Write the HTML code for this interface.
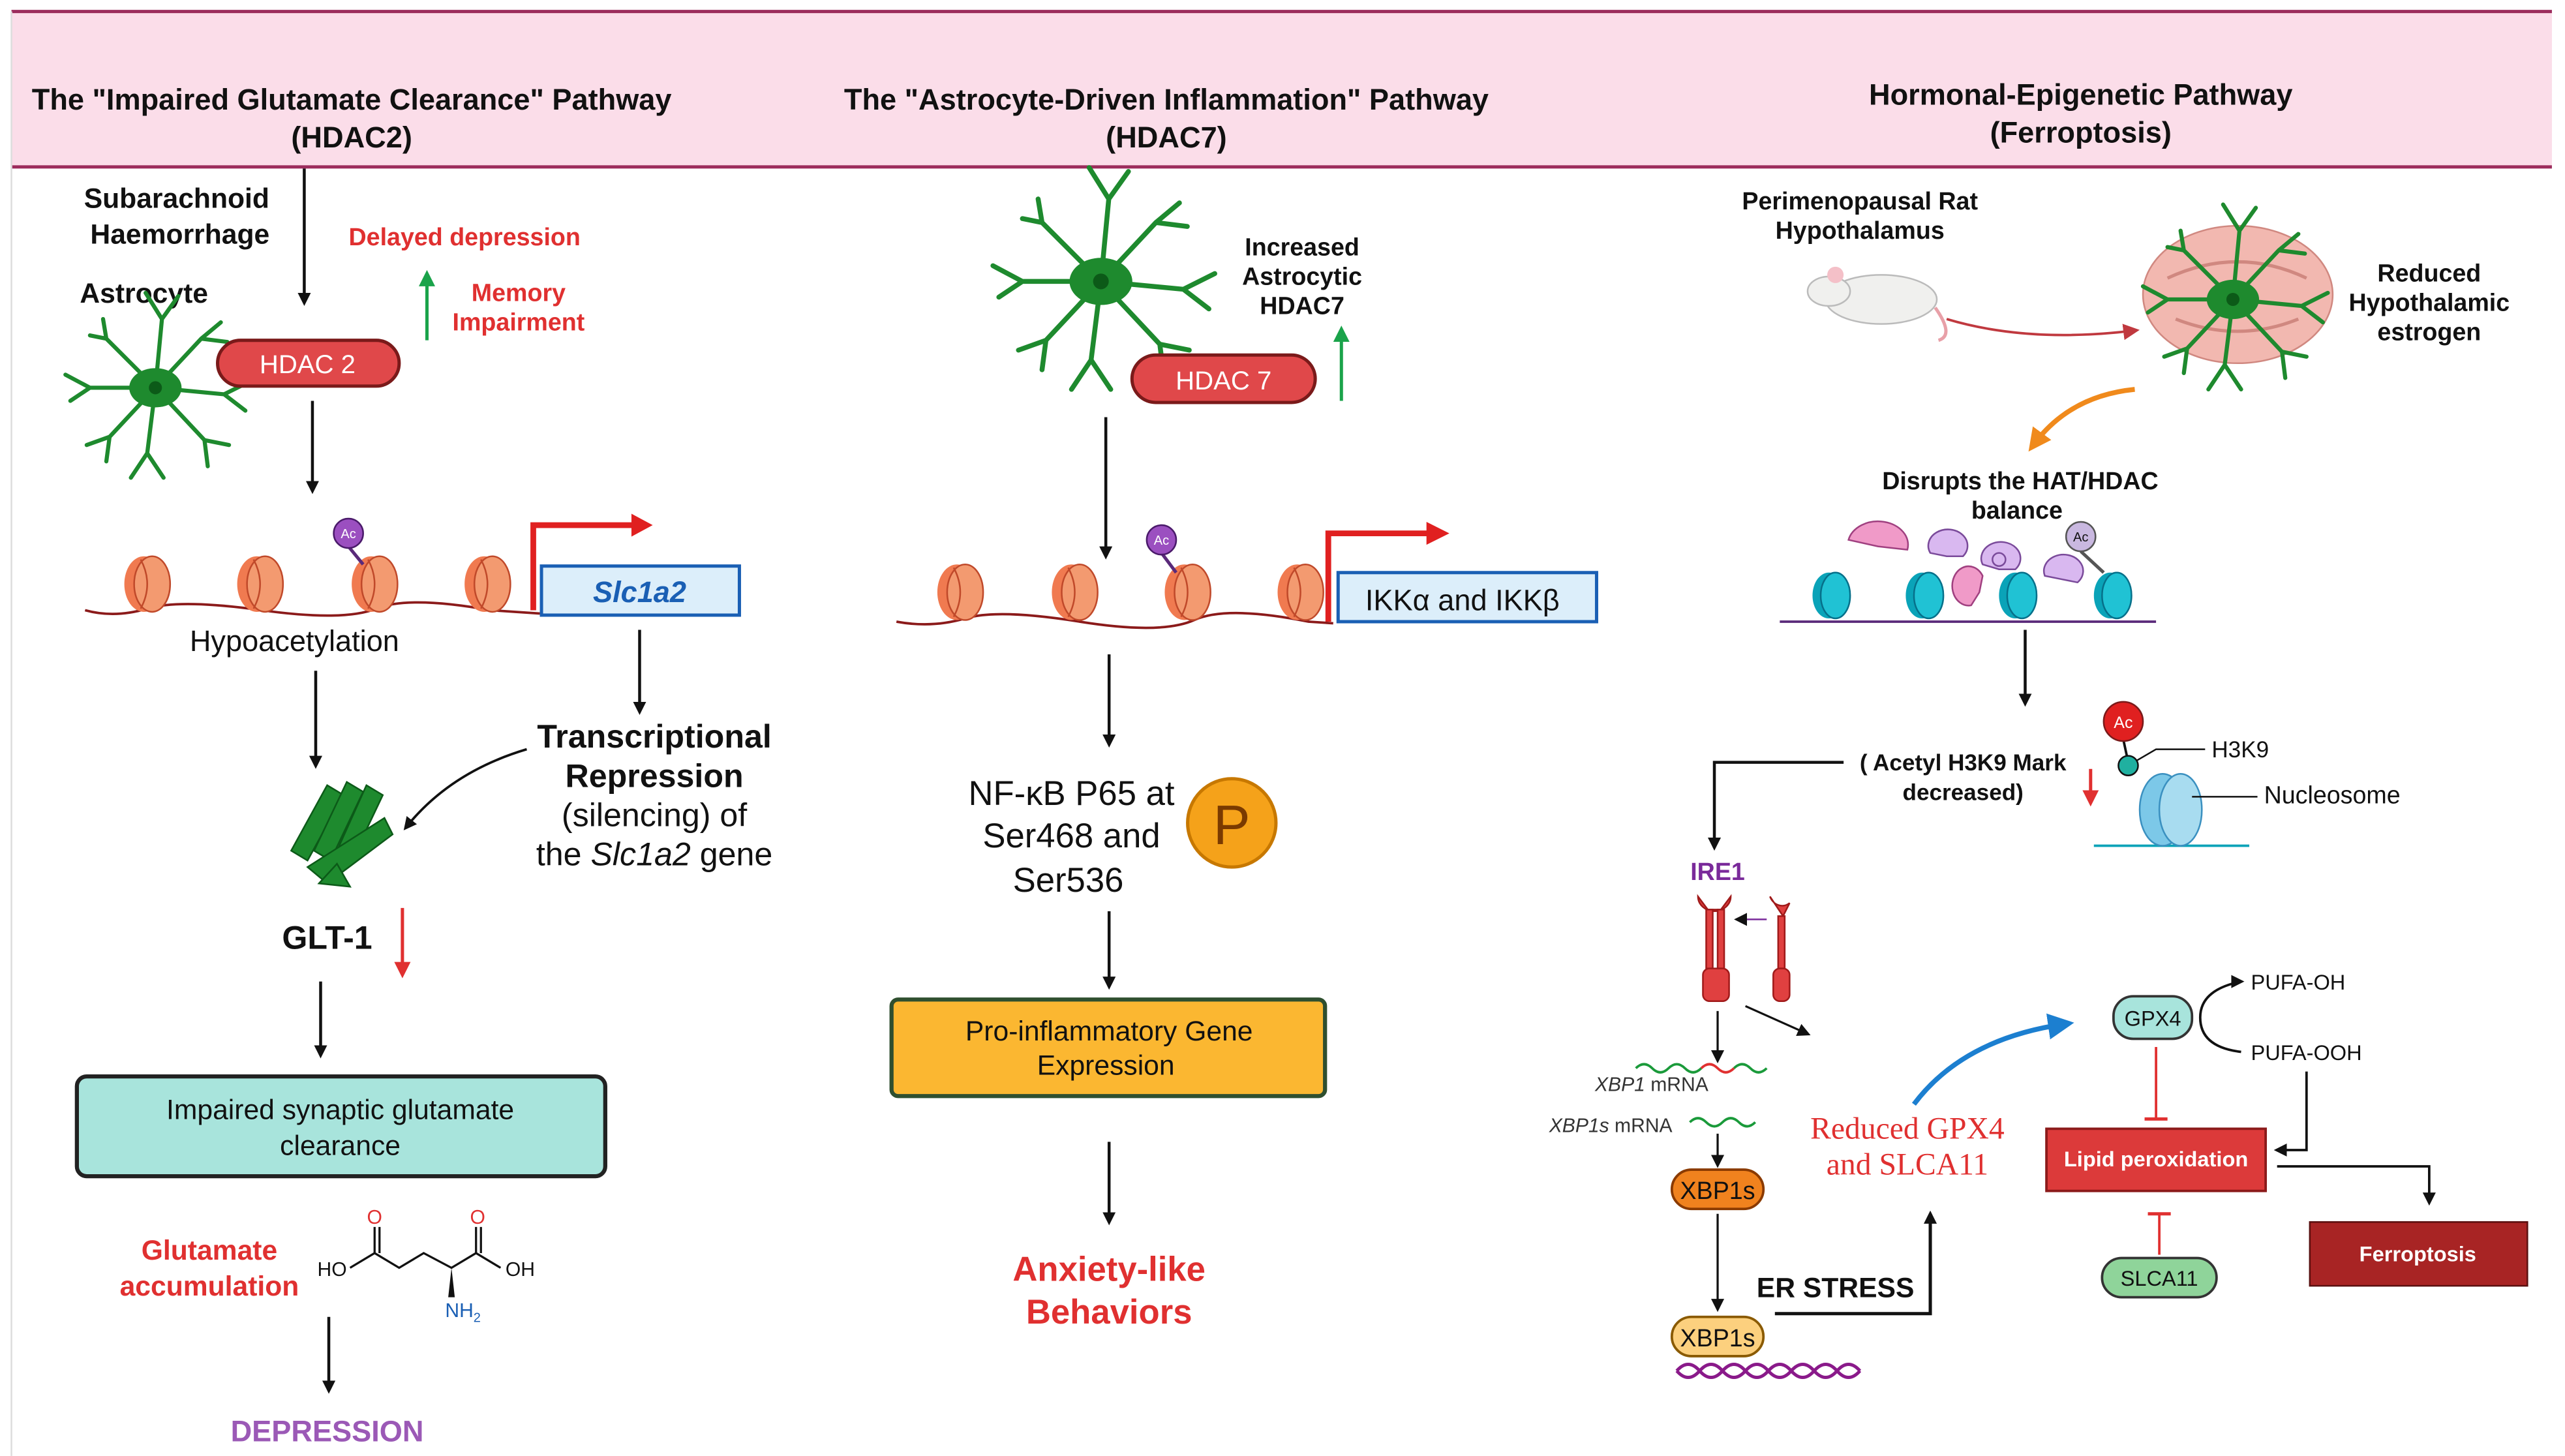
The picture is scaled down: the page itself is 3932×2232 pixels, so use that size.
<!DOCTYPE html>
<html><head><meta charset="utf-8"><style>
html,body{margin:0;padding:0;background:#fff}
svg{display:block}
text{font-family:"Liberation Sans",sans-serif}
</style></head><body>
<svg width="3932" height="2232" viewBox="0 0 1568 890" xmlns="http://www.w3.org/2000/svg">
<defs>
<marker id="ah" markerWidth="8" markerHeight="8" refX="6" refY="4" orient="auto" markerUnits="userSpaceOnUse"><path d="M0,0 L8,4 L0,8 z" fill="#111"/></marker>
<marker id="ahr" markerWidth="10" markerHeight="10" refX="7" refY="5" orient="auto" markerUnits="userSpaceOnUse"><path d="M0,0 L10,5 L0,10 z" fill="#e03030"/></marker>
<marker id="ahg" markerWidth="10" markerHeight="10" refX="7" refY="5" orient="auto" markerUnits="userSpaceOnUse"><path d="M0,0 L10,5 L0,10 z" fill="#1aa34a"/></marker>
<marker id="aho" markerWidth="14" markerHeight="14" refX="9" refY="7" orient="auto" markerUnits="userSpaceOnUse"><path d="M0,0 L14,7 L0,14 z" fill="#f08a1c"/></marker>
<marker id="ahb" markerWidth="16" markerHeight="16" refX="10" refY="8" orient="auto" markerUnits="userSpaceOnUse"><path d="M0,0 L16,8 L0,16 z" fill="#1c7fd0"/></marker>
<marker id="ahrd" markerWidth="10" markerHeight="10" refX="7" refY="5" orient="auto" markerUnits="userSpaceOnUse"><path d="M0,0 L10,5 L0,10 z" fill="#c0393f"/></marker>
<g id="astro">
<g stroke="#1e8a2e" stroke-width="2.5" fill="none" stroke-linecap="round">
<path d="M0,0 L-30,-30 L-40,-32 M-30,-30 L-32,-42"/><path d="M0,0 L-40,0 L-55,-8 M-40,0 L-52,8"/>
<path d="M0,0 L-28,30 L-42,35 M-28,30 L-30,45"/><path d="M0,0 L-5,40 L-15,55 M-5,40 L5,55"/>
<path d="M0,0 L30,32 L45,35 M30,32 L32,48"/><path d="M0,0 L42,4 L58,-4 M42,4 L55,14"/>
<path d="M0,0 L28,-30 L40,-40 M28,-30 L44,-28"/><path d="M0,0 L4,-42 L-6,-58 M4,-42 L14,-56"/>
</g>
<ellipse cx="0" cy="0" rx="16" ry="12" fill="#1e8a2e"/><circle cx="0" cy="0" r="4" fill="#0c5a18"/>
</g>
<g id="nuc"><ellipse cx="0" cy="0" rx="12" ry="17" fill="#f07a50"/><ellipse cx="5" cy="0" rx="11" ry="17" fill="#f39a70" stroke="#c0492a" stroke-width="1"/><path d="M-2,-15 Q6,0 -2,15" stroke="#c0492a" fill="none"/></g>
<g id="nuct"><ellipse cx="0" cy="0" rx="10" ry="14" fill="#0aa3b8"/><ellipse cx="4" cy="0" rx="9" ry="14" fill="#20c2d4" stroke="#06708a"/></g>
</defs>

<rect x="0" y="0" width="1568" height="890" fill="#fff"/>
<rect x="7" y="7" width="1553" height="95" fill="#fbdde9"/>
<line x1="7" y1="7" x2="1560" y2="7" stroke="#9c2c5c" stroke-width="2"/>
<line x1="7" y1="102" x2="1560" y2="102" stroke="#9c2c5c" stroke-width="2"/>
<line x1="7" y1="7" x2="7" y2="890" stroke="#ddd" stroke-width="1"/>
<g font-weight="bold" font-size="18" text-anchor="middle" fill="#111">
<text x="215" y="67">The "Impaired Glutamate Clearance" Pathway</text><text x="215" y="90">(HDAC2)</text>
<text x="713" y="67">The "Astrocyte-Driven Inflammation" Pathway</text><text x="713" y="90">(HDAC7)</text>
<text x="1272" y="64">Hormonal-Epigenetic Pathway</text><text x="1272" y="87">(Ferroptosis)</text>
</g>

<!-- COLUMN 1 -->
<g font-weight="bold" font-size="17" text-anchor="middle" fill="#111">
<text x="108" y="127">Subarachnoid</text><text x="110" y="149">Haemorrhage</text>
<text x="88" y="185">Astrocyte</text>
</g>
<line x1="186" y1="103" x2="186" y2="185" stroke="#111" stroke-width="1.8" marker-end="url(#ah)"/>
<text x="284" y="150" font-size="15" font-weight="bold" fill="#e03030" text-anchor="middle">Delayed depression</text>
<line x1="261" y1="208" x2="261" y2="168" stroke="#1aa34a" stroke-width="2" marker-end="url(#ahg)"/>
<text x="317" y="184" font-size="15" font-weight="bold" fill="#e03030" text-anchor="middle">Memory</text>
<text x="317" y="202" font-size="15" font-weight="bold" fill="#e03030" text-anchor="middle">Impairment</text>
<use href="#astro" x="95" y="237"/>
<rect x="133" y="208" width="111" height="28" rx="14" fill="#e0484a" stroke="#7a1a1a" stroke-width="2"/>
<text x="188" y="228" font-size="16" fill="#fff" text-anchor="middle">HDAC 2</text>
<line x1="191" y1="245" x2="191" y2="300" stroke="#111" stroke-width="1.8" marker-end="url(#ah)"/>
<path d="M52,373 Q70,378 90,372 T160,373 T230,372 T300,373 L330,375" stroke="#8b1a1a" stroke-width="1.5" fill="none"/>
<use href="#nuc" x="88" y="357"/><use href="#nuc" x="157" y="357"/><use href="#nuc" x="227" y="357"/><use href="#nuc" x="296" y="357"/>
<line x1="213" y1="334" x2="222" y2="345" stroke="#5a2a7a" stroke-width="2"/>
<circle cx="213" cy="326" r="9" fill="#9b4fc0" stroke="#4a1a6a"/><text x="213" y="329" font-size="8" fill="#fff" text-anchor="middle">Ac</text>
<path d="M326,373 L326,321 L390,321" stroke="#e02020" stroke-width="3.5" fill="none"/><path d="M386,314 L399,321 L386,328 z" fill="#e02020"/>
<rect x="331" y="346" width="121" height="30" fill="#dceefa" stroke="#1a5fb4" stroke-width="2"/>
<text x="391" y="368" font-size="18" font-weight="bold" font-style="italic" fill="#1a5fb4" text-anchor="middle">Slc1a2</text>
<text x="180" y="398" font-size="18" fill="#111" text-anchor="middle">Hypoacetylation</text>
<line x1="193" y1="410" x2="193" y2="468" stroke="#111" stroke-width="1.8" marker-end="url(#ah)"/>
<line x1="391" y1="385" x2="391" y2="435" stroke="#111" stroke-width="1.8" marker-end="url(#ah)"/>
<g font-size="20" fill="#111" text-anchor="middle">
<text x="400" y="457" font-weight="bold">Transcriptional</text><text x="400" y="481" font-weight="bold">Repression</text>
<text x="400" y="505">(silencing) of</text><text x="400" y="529">the <tspan font-style="italic">Slc1a2</tspan> gene</text>
</g>
<path d="M322,458 Q275,472 248,506" stroke="#111" stroke-width="1.5" fill="none" marker-end="url(#ah)"/>
<g fill="#1e8a2e" stroke="#0c5a18" stroke-width="1">
<path d="M178,520 L200,480 L210,486 L188,526 z"/><path d="M192,520 L212,478 L222,484 L202,526 z"/><path d="M206,520 L224,480 L234,486 L216,524 z"/>
<path d="M188,530 L235,500 L240,510 L200,540 z"/><path d="M195,540 L206,528 L214,542 z"/>
</g>
<text x="200" y="580" font-size="20" font-weight="bold" fill="#111" text-anchor="middle">GLT-1</text>
<line x1="246" y1="555" x2="246" y2="595" stroke="#e03030" stroke-width="2" marker-end="url(#ahr)"/>
<line x1="196" y1="600" x2="196" y2="645" stroke="#111" stroke-width="1.8" marker-end="url(#ah)"/>
<rect x="47" y="658" width="323" height="61" rx="6" fill="#a8e4dc" stroke="#222" stroke-width="2.5"/>
<text x="208" y="684" font-size="17" fill="#111" text-anchor="middle">Impaired synaptic glutamate</text>
<text x="208" y="706" font-size="17" fill="#111" text-anchor="middle">clearance</text>
<text x="128" y="770" font-size="17" font-weight="bold" fill="#e03030" text-anchor="middle">Glutamate</text>
<text x="128" y="792" font-size="17" font-weight="bold" fill="#e03030" text-anchor="middle">accumulation</text>
<g stroke="#111" stroke-width="1.3" fill="none">
<path d="M214,775 L229,766 L244,775 L259,766 L276,775 L291,766 L306,775"/>
<path d="M229,766 L229,750 M232,766 L232,750 M291,766 L291,750 M294,766 L294,750"/>
</g>
<path d="M276,775 L274,793 L278,793 z" fill="#111"/>
<g font-size="12" text-anchor="middle"><text x="229" y="748" fill="#e03030">O</text><text x="292" y="748" fill="#e03030">O</text>
<text x="203" y="780" fill="#111">HO</text><text x="318" y="780" fill="#111">OH</text><text x="283" y="805" fill="#1a5fb4">NH<tspan font-size="8" dy="3">2</tspan></text></g>
<line x1="201" y1="805" x2="201" y2="850" stroke="#111" stroke-width="1.8" marker-end="url(#ah)"/>
<text x="200" y="881" font-size="18" font-weight="bold" fill="#9b59b6" text-anchor="middle">DEPRESSION</text>

<!-- COLUMN 2 -->
<use href="#astro" transform="translate(673 172) scale(1.2)"/>
<g font-weight="bold" font-size="15" text-anchor="middle" fill="#111"><text x="796" y="156">Increased</text><text x="796" y="174">Astrocytic</text><text x="796" y="192">HDAC7</text></g>
<line x1="820" y1="245" x2="820" y2="202" stroke="#1aa34a" stroke-width="2" marker-end="url(#ahg)"/>
<rect x="692" y="217" width="112" height="29" rx="14.5" fill="#e0484a" stroke="#7a1a1a" stroke-width="2"/>
<text x="748" y="238" font-size="16" fill="#fff" text-anchor="middle">HDAC 7</text>
<line x1="676" y1="255" x2="676" y2="340" stroke="#111" stroke-width="1.8" marker-end="url(#ah)"/>
<path d="M548,380 Q570,384 590,378 T660,380 T730,379 T800,380 L815,381" stroke="#8b1a1a" stroke-width="1.5" fill="none"/>
<use href="#nuc" x="585" y="362"/><use href="#nuc" x="655" y="362"/><use href="#nuc" x="724" y="362"/><use href="#nuc" x="793" y="362"/>
<line x1="710" y1="338" x2="719" y2="350" stroke="#5a2a7a" stroke-width="2"/>
<circle cx="710" cy="330" r="9" fill="#9b4fc0" stroke="#4a1a6a"/><text x="710" y="333" font-size="8" fill="#fff" text-anchor="middle">Ac</text>
<path d="M812,380 L812,326 L876,326" stroke="#e02020" stroke-width="3.5" fill="none"/><path d="M872,319 L886,326 L872,333 z" fill="#e02020"/>
<rect x="818" y="350" width="158" height="30" fill="#dceefa" stroke="#1a5fb4" stroke-width="2"/>
<text x="894" y="373" font-size="18" fill="#111" text-anchor="middle">IKKα and IKKβ</text>
<line x1="678" y1="400" x2="678" y2="455" stroke="#111" stroke-width="1.8" marker-end="url(#ah)"/>
<g font-size="21" fill="#111" text-anchor="middle"><text x="655" y="492">NF-κB P65 at</text><text x="655" y="518">Ser468 and</text><text x="653" y="545">Ser536</text></g>
<circle cx="753" cy="503" r="27" fill="#f5a21a" stroke="#c77800" stroke-width="2"/>
<text x="753" y="516" font-size="34" fill="#7a3a00" text-anchor="middle">P</text>
<line x1="678" y1="557" x2="678" y2="603" stroke="#111" stroke-width="1.8" marker-end="url(#ah)"/>
<rect x="545" y="611" width="265" height="59" rx="4" fill="#fbb731" stroke="#2f4f2f" stroke-width="2.5"/>
<text x="678" y="636" font-size="17" fill="#111" text-anchor="middle">Pro-inflammatory Gene</text>
<text x="676" y="657" font-size="17" fill="#111" text-anchor="middle">Expression</text>
<line x1="678" y1="698" x2="678" y2="747" stroke="#111" stroke-width="1.8" marker-end="url(#ah)"/>
<text x="678" y="783" font-size="21" font-weight="bold" fill="#e03030" text-anchor="middle">Anxiety-like</text>
<text x="678" y="809" font-size="21" font-weight="bold" fill="#e03030" text-anchor="middle">Behaviors</text>

<!-- COLUMN 3 -->
<g font-weight="bold" font-size="15" text-anchor="middle" fill="#111"><text x="1137" y="128">Perimenopausal Rat</text><text x="1137" y="146">Hypothalamus</text>
<text x="1485" y="172">Reduced</text><text x="1485" y="190">Hypothalamic</text><text x="1485" y="208">estrogen</text></g>
<ellipse cx="1150" cy="183" rx="34" ry="15" fill="#f0f0ee" stroke="#bbb"/>
<ellipse cx="1118" cy="178" rx="13" ry="9" fill="#f0f0ee" stroke="#bbb"/>
<circle cx="1122" cy="168" r="5" fill="#f4c0c8"/>
<path d="M1183,188 Q1195,205 1185,208" stroke="#e8a0a8" stroke-width="2" fill="none"/>
<path d="M1190,195 Q1240,210 1305,202" stroke="#c0393f" stroke-width="1.5" fill="none" marker-end="url(#ahrd)"/>
<ellipse cx="1368" cy="180" rx="58" ry="42" fill="#f2b8b0" stroke="#d08880"/>
<path d="M1325,170 Q1368,150 1410,170 M1330,195 Q1368,210 1405,195" stroke="#d08880" fill="none" stroke-width="2"/>
<use href="#astro" x="1365" y="183"/>
<path d="M1305,238 Q1265,242 1243,272" stroke="#f08a1c" stroke-width="3" fill="none" marker-end="url(#aho)"/>
<g font-weight="bold" font-size="15" text-anchor="middle" fill="#111"><text x="1235" y="299">Disrupts the HAT/HDAC</text><text x="1233" y="317">balance</text></g>
<path d="M1088,380 L1318,380" stroke="#5a2a7a" stroke-width="1.5"/>
<use href="#nuct" x="1118" y="364"/><use href="#nuct" x="1175" y="364"/><use href="#nuct" x="1232" y="364"/><use href="#nuct" x="1290" y="364"/>
<path d="M1130,330 A18,14 0 1,1 1166,336 L1148,334 z" fill="#f09ac8" stroke="#a04080"/>
<path d="M1180,338 A12,10 0 1,1 1200,340 L1190,340 z" fill="#d9b8f0" stroke="#7a4a9a"/>
<path d="M1212,345 A12,10 0 1,1 1232,348 L1222,348 z" fill="#d9b8f0" stroke="#7a4a9a"/>
<path d="M1250,352 A12,10 0 1,1 1270,356 L1260,354 z" fill="#d9b8f0" stroke="#7a4a9a"/>
<path d="M1205,370 A10,12 0 1,1 1212,352 L1210,362 z" fill="#f09ac8" stroke="#a04080"/>
<line x1="1272" y1="337" x2="1286" y2="350" stroke="#555" stroke-width="2"/>
<circle cx="1272" cy="328" r="9" fill="#c9b8e0" stroke="#555"/><text x="1272" y="331" font-size="8" fill="#111" text-anchor="middle">Ac</text>
<circle cx="1222" cy="342" r="4" fill="#d9b8f0" stroke="#7a4a9a"/>
<line x1="1238" y1="385" x2="1238" y2="430" stroke="#111" stroke-width="1.8" marker-end="url(#ah)"/>
<path d="M1280,517 L1375,517" stroke="#0aa3b8" stroke-width="1.5"/>
<ellipse cx="1322" cy="495" rx="14" ry="22" fill="#7cc8e8" stroke="#3a90c0"/><ellipse cx="1333" cy="495" rx="13" ry="22" fill="#a8dcf0" stroke="#3a90c0"/>
<line x1="1298" y1="452" x2="1301" y2="466" stroke="#111" stroke-width="1.5"/>
<circle cx="1298" cy="441" r="12" fill="#e02020" stroke="#7a1a1a"/><text x="1298" y="445" font-size="10" fill="#fff" text-anchor="middle">Ac</text>
<circle cx="1301" cy="468" r="6" fill="#20b0a0" stroke="#111"/>
<path d="M1306,465 L1318,458 L1348,458" stroke="#111" fill="none"/><text x="1352" y="463" font-size="14" fill="#111">H3K9</text>
<line x1="1340" y1="487" x2="1380" y2="487" stroke="#111"/><text x="1384" y="491" font-size="15" fill="#111">Nucleosome</text>
<g font-weight="bold" font-size="14" text-anchor="middle" fill="#111"><text x="1200" y="471">( Acetyl H3K9 Mark</text><text x="1200" y="489">decreased)</text></g>
<line x1="1278" y1="470" x2="1278" y2="490" stroke="#e03030" stroke-width="2" marker-end="url(#ahr)"/>
<path d="M1127,466 L1048,466 L1048,518" stroke="#111" stroke-width="1.8" fill="none" marker-end="url(#ah)"/>
<text x="1050" y="538" font-size="15" font-weight="bold" fill="#7a2a9a" text-anchor="middle">IRE1</text>
<g fill="#e04040" stroke="#a01a1a" stroke-width="1">
<path d="M1038,548 A10,9 0 0,0 1058,548 L1052,556 L1044,556 z"/><rect x="1043" y="556" width="4" height="36"/><rect x="1050" y="556" width="4" height="36"/><rect x="1041" y="592" width="16" height="20" rx="4"/>
<path d="M1082,548 A8,9 0 0,0 1094,552 L1090,560 z"/><rect x="1087" y="560" width="4" height="32"/><rect x="1084" y="592" width="10" height="20" rx="4"/>
</g>
<line x1="1080" y1="562" x2="1062" y2="562" stroke="#7a2a9a" stroke-width="1" marker-end="url(#ah)"/>
<line x1="1067" y1="615" x2="1105" y2="632" stroke="#111" stroke-width="1.3" marker-end="url(#ah)"/>
<line x1="1050" y1="618" x2="1050" y2="648" stroke="#111" stroke-width="1.3" marker-end="url(#ah)"/>
<path d="M1000,653 q5,-5 10,0 t10,0 t10,0 t10,0" stroke="#1a9a3a" stroke-width="1.5" fill="none"/>
<path d="M1040,653 q5,-5 10,0 t10,0" stroke="#e03030" stroke-width="1.5" fill="none"/>
<path d="M1060,653 q5,-5 10,0 t10,0" stroke="#1a9a3a" stroke-width="1.5" fill="none"/>
<text x="975" y="667" font-size="12" fill="#333"><tspan font-style="italic">XBP1</tspan> mRNA</text>
<text x="947" y="692" font-size="12" fill="#333"><tspan font-style="italic">XBP1s</tspan> mRNA</text>
<path d="M1033,686 q5,-5 10,0 t10,0 t10,0 t10,0" stroke="#1a9a3a" stroke-width="1.5" fill="none"/>
<line x1="1050" y1="693" x2="1050" y2="712" stroke="#111" stroke-width="1.3" marker-end="url(#ah)"/>
<rect x="1022" y="715" width="56" height="24" rx="12" fill="#f0821e" stroke="#8a3a00" stroke-width="1.5"/>
<text x="1050" y="733" font-size="15" fill="#111" text-anchor="middle">XBP1s</text>
<line x1="1050" y1="742" x2="1050" y2="800" stroke="#111" stroke-width="1.3" marker-end="url(#ah)"/>
<path d="M1025,838 q7,-8 14,0 t14,0 t14,0 t14,0 t14,0 t14,0 t14,0 t14,0" stroke="#8a1a8a" stroke-width="2" fill="none"/>
<path d="M1025,838 q7,8 14,0 t14,0 t14,0 t14,0 t14,0 t14,0 t14,0 t14,0" stroke="#8a1a8a" stroke-width="2" fill="none"/>
<rect x="1022" y="805" width="56" height="24" rx="12" fill="#fcd07e" stroke="#8a5a00" stroke-width="1.5"/>
<text x="1050" y="823" font-size="15" fill="#111" text-anchor="middle">XBP1s</text>
<text x="1122" y="793" font-size="17" font-weight="bold" fill="#111" text-anchor="middle">ER STRESS</text>
<path d="M1085,803 L1180,803 L1180,742" stroke="#111" stroke-width="2" fill="none" marker-end="url(#ah)"/>
<text x="1166" y="696" font-size="19" fill="#e03030" text-anchor="middle" style="font-family:'Liberation Serif',serif">Reduced GPX4</text>
<text x="1166" y="718" font-size="19" fill="#e03030" text-anchor="middle" style="font-family:'Liberation Serif',serif">and SLCA11</text>
<path d="M1170,675 Q1200,635 1262,626" stroke="#1c7fd0" stroke-width="3" fill="none" marker-end="url(#ahb)"/>
<rect x="1292" y="609" width="48" height="26" rx="12" fill="#a8e4dc" stroke="#333" stroke-width="1.5"/>
<text x="1316" y="627" font-size="13" fill="#111" text-anchor="middle">GPX4</text>
<path d="M1370,600 Q1345,605 1345,622 Q1345,640 1370,643" stroke="#111" stroke-width="1.5" fill="none"/>
<path d="M1364,596 L1372,600 L1364,604 z" fill="#111"/>
<text x="1376" y="605" font-size="13" fill="#111">PUFA-OH</text>
<text x="1376" y="648" font-size="13" fill="#111">PUFA-OOH</text>
<line x1="1318" y1="640" x2="1318" y2="684" stroke="#e03030" stroke-width="1.5"/><line x1="1311" y1="684" x2="1325" y2="684" stroke="#e03030" stroke-width="2"/>
<rect x="1251" y="690" width="134" height="38" fill="#dc3a3a" stroke="#8b1a1a" stroke-width="1.5"/>
<text x="1318" y="713" font-size="13" font-weight="bold" fill="#fff" text-anchor="middle">Lipid peroxidation</text>
<path d="M1410,655 L1410,703 L1392,703" stroke="#111" stroke-width="1.5" fill="none" marker-end="url(#ah)"/>
<path d="M1392,713 L1485,713 L1485,735" stroke="#111" stroke-width="1.5" fill="none" marker-end="url(#ah)"/>
<rect x="1412" y="747" width="133" height="39" fill="#a82424" stroke="#5a1010"/>
<text x="1478" y="771" font-size="13" font-weight="bold" fill="#fff" text-anchor="middle">Ferroptosis</text>
<line x1="1320" y1="742" x2="1320" y2="767" stroke="#e03030" stroke-width="1.5"/><line x1="1313" y1="742" x2="1327" y2="742" stroke="#e03030" stroke-width="2"/>
<rect x="1285" y="769" width="70" height="24" rx="12" fill="#8fd49a" stroke="#333" stroke-width="1.5"/>
<text x="1320" y="786" font-size="13" fill="#111" text-anchor="middle">SLCA11</text>
</svg>
</body></html>
